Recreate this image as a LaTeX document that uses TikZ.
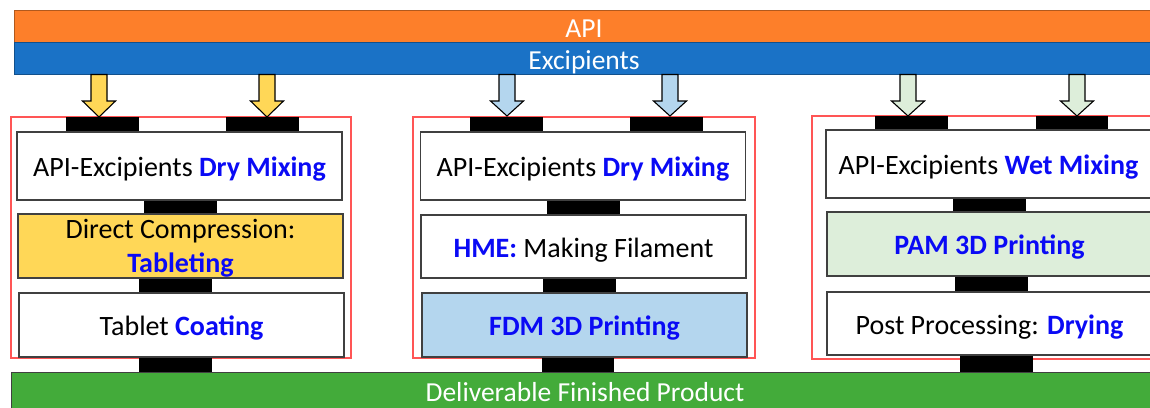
\documentclass[tikz,border=0pt]{standalone}
\usepackage{fontspec}
\setmainfont{Carlito}
\definecolor{apiorange}{HTML}{FD7F2A}
\definecolor{excblue}{HTML}{1A72C6}
\definecolor{prodgreen}{HTML}{43AB3A}
\definecolor{stepyellow}{HTML}{FFD757}
\definecolor{steplblue}{HTML}{B4D6EE}
\definecolor{steplgreen}{HTML}{DDEEDA}
\definecolor{hlblue}{HTML}{0A0AF5}
\definecolor{panelred}{HTML}{FF5555}
\definecolor{boxgray}{HTML}{404040}
\newcommand{\hl}[1]{\textcolor{hlblue}{\textbf{#1}}}
\begin{document}
\begin{tikzpicture}[x=1pt,y=-1pt,
  bar/.style={draw=#1!70!black, line width=0.8pt, minimum height=32pt, minimum width=1140pt, inner sep=0pt, text=white, font=\fontsize{27.5}{30}\selectfont, text height=22.4pt, text depth=0pt},
  panel/.style={draw=panelred, line width=1.3pt},
  stepbox/.style={draw=boxgray, line width=1.3pt, fill=white, minimum width=325pt, minimum height=#1, inner sep=0pt, align=center, font=\fontsize{28}{34}\selectfont, text height=21pt, text depth=0pt},
  stepbox/.default=66pt,
  blk/.style={fill=black},
  dnarrow/.style={draw=black, line width=1.1pt, fill=#1, line join=miter}
]
\useasboundingbox (0,0) rectangle (1150,407);

% top bars
\node[bar=apiorange, fill=apiorange] (api) at (584,26) {API};
\node[bar=excblue, fill=excblue] (exc) at (584,58) {Excipients};

% bottom bar
\node[bar=prodgreen, fill=prodgreen, draw=boxgray, minimum height=40pt, minimum width=1148pt, text height=19.4pt] (prod) at (585,392) {Deliverable Finished Product};

% panels (red frames)
\draw[panel] (11,117) rectangle (351,358);
\draw[panel] (413,117) rectangle (755,358);
\draw[panel] (812,116) rectangle (1156,359);

% black connectors - panel 1
\fill[blk] (66,117) rectangle (139,132);
\fill[blk] (226,117) rectangle (299,132);
\fill[blk] (144,199) rectangle (217,215);
\fill[blk] (139,277) rectangle (212,294);
\fill[blk] (139,356) rectangle (212,372);
% panel 2
\fill[blk] (470,117) rectangle (543,132);
\fill[blk] (630,117) rectangle (703,132);
\fill[blk] (547,199) rectangle (620,215);
\fill[blk] (543,277) rectangle (616,294);
\fill[blk] (542,356) rectangle (614,372);
% panel 3
\fill[blk] (875,116) rectangle (948,130);
\fill[blk] (1036,116) rectangle (1108,130);
\fill[blk] (953,197) rectangle (1026,213);
\fill[blk] (955,275) rectangle (1028,293);
\fill[blk] (960,354) rectangle (1033,372);

% panel 1 boxes
\node[stepbox=68pt] (p1a) at (179.5,166) {API-Excipients \hl{Dry Mixing}};
\node[stepbox=64pt, fill=stepyellow, text height=52pt, text depth=0pt] (p1b) at (180.5,246) {Direct Compression:\\\hl{Tableting}};
\node[stepbox=64pt] (p1c) at (181.5,325) {Tablet \hl{Coating}};

% panel 2 boxes
\node[stepbox=68pt] (p2a) at (583,166) {API-Excipients \hl{Dry Mixing}};
\node[stepbox=63pt] (p2b) at (583.5,246.5) {\hl{HME:} Making Filament};
\node[stepbox=64pt, fill=steplblue] (p2c) at (584.5,325) {\hl{FDM 3D Printing}};

% panel 3 boxes
\node[stepbox=68pt] (p3a) at (988.5,164) {API-Excipients \hl{Wet Mixing}};
\node[stepbox=64pt, fill=steplgreen] (p3b) at (989.5,244) {\hl{PAM 3D Printing}};
\node[stepbox=63pt] (p3c) at (989.5,323.5) {Post Processing: \hl{Drying}};

% arrows
\newcommand{\dnarr}[3]{%
  \draw[dnarrow=#3] (#1-8,74.5) -- (#1+8,74.5) -- (#1+8,101) -- (#1+16.5,101)
    -- (#1,#2) -- (#1-16.5,101) -- (#1-8,101) -- cycle;}
\dnarr{99}{117}{stepyellow}
\dnarr{267}{117}{stepyellow}
\dnarr{507}{116}{steplblue}
\dnarr{670}{116}{steplblue}
\dnarr{908}{116}{steplgreen}
\dnarr{1077}{116}{steplgreen}
\end{tikzpicture}
\end{document}
